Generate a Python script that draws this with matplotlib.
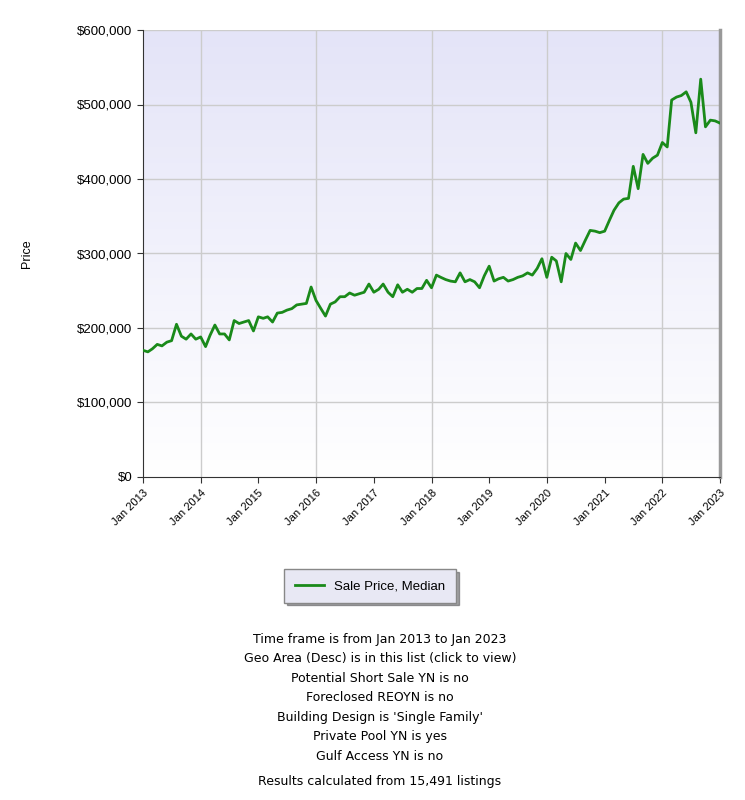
import matplotlib
matplotlib.use("Agg")
import matplotlib.pyplot as plt
import numpy as np
import pandas as pd

prices_2013 = [170,168,172,178,176,181,183,205,189,185,192,185]
prices_2014 = [188,175,190,204,192,192,184,210,206,208,210,196]
prices_2015 = [215,213,215,208,220,221,224,226,231,232,233,255]
prices_2016 = [237,226,216,232,235,242,242,247,244,246,248,259]
prices_2017 = [248,252,259,248,242,258,248,252,248,253,253,264]
prices_2018 = [254,271,268,265,263,262,274,262,265,262,254,270]
prices_2019 = [283,263,266,268,263,265,268,270,274,271,280,293]
prices_2020 = [268,295,290,262,300,292,314,304,318,331,330,328]
prices_2021 = [330,345,358,368,373,374,417,387,433,421,428,432]
prices_2022 = [449,443,506,510,512,517,503,462,534,470,479,478]
prices_2023 = [475]
series_label = "Sale Price, Median"
tick_years = list(range(2013, 2024))
y_ticks = [0, 100000, 200000, 300000, 400000, 500000, 600000]
notes = ["Time frame is from Jan 2013 to Jan 2023",
         "Geo Area (Desc) is in this list (click to view)",
         "Potential Short Sale YN is no",
         "Foreclosed REOYN is no",
         "Building Design is 'Single Family'",
         "Private Pool YN is yes",
         "Gulf Access YN is no"]
footer = "Results calculated from 15,491 listings"

values = np.array(prices_2013 + prices_2014 + prices_2015 + prices_2016 + prices_2017 +
                  prices_2018 + prices_2019 + prices_2020 + prices_2021 + prices_2022 +
                  prices_2023) * 1000
dates = pd.date_range("2013-01-01", periods=len(values), freq="MS")
xnum = matplotlib.dates.date2num(dates)

fig = plt.figure(figsize=(7.45, 8), dpi=100)
ax = fig.add_axes([143/745, 1-477/800, (720-143)/745, (477-30)/800])
x0 = matplotlib.dates.date2num(pd.Timestamp("2013-01-01"))
x1 = matplotlib.dates.date2num(pd.Timestamp("2023-01-01"))
grad = np.linspace(0, 1, 256).reshape(-1, 1)
cmap = matplotlib.colors.LinearSegmentedColormap.from_list("g", ["#ffffff", "#e4e4f8"])
ax.imshow(grad, aspect="auto", cmap=cmap, origin="lower",
          extent=[x0, x1, 0, 600000], zorder=0)
ax.set_xlim(x0, x1)
ax.set_ylim(0, 600000)
ax.plot(xnum, values, color="#1a8a1a", lw=2.0, zorder=3, label=series_label)

ax.set_yticks(y_ticks)
ax.set_yticklabels(["$" + format(v, ",") for v in y_ticks], fontsize=9.5, family="Liberation Sans")
tick_pos = [matplotlib.dates.date2num(pd.Timestamp(f"{y}-01-01")) for y in tick_years]
ax.set_xticks(tick_pos)
ax.set_xticklabels([f"Jan {y}" for y in tick_years], rotation=45, ha="right",
                   rotation_mode="anchor", fontsize=8, family="Liberation Sans")
ax.grid(False)
for v in y_ticks[1:-1]:
    ax.axhline(v, color="#cccccc", lw=1, zorder=1)
for p in tick_pos[1:-1:2]:
    ax.axvline(p, color="#cccccc", lw=1, zorder=1)
ax.axhline(600000, color="#cccccc", lw=1, zorder=1)
ax.spines["left"].set_color("#333333")
ax.spines["bottom"].set_color("#333333")
ax.spines["top"].set_visible(False)
ax.spines["right"].set_color("#999999")
ax.spines["right"].set_linewidth(2.5)
ax.tick_params(axis="both", length=4, color="#333333")
ax.set_ylabel("Price", fontsize=9, family="Liberation Sans", labelpad=32)

leg = fig.legend(loc="center", bbox_to_anchor=(370/745, 1-586/800),
                 prop={"family": "Liberation Sans", "size": 9.5}, frameon=True,
                 fancybox=False, shadow=True, handlelength=2.2, borderpad=0.8)
leg.get_frame().set_facecolor("#e8e8f4")
leg.get_frame().set_edgecolor("#888888")

for i, t in enumerate(notes):
    fig.text(380/745, 1-(639+19.5*i)/800, t, ha="center", va="center",
             fontsize=9, family="DejaVu Sans")
fig.text(380/745, 1-782/800, footer, ha="center", va="center", fontsize=9, family="DejaVu Sans")

fig.savefig("out.png", dpi=100, facecolor="white")
